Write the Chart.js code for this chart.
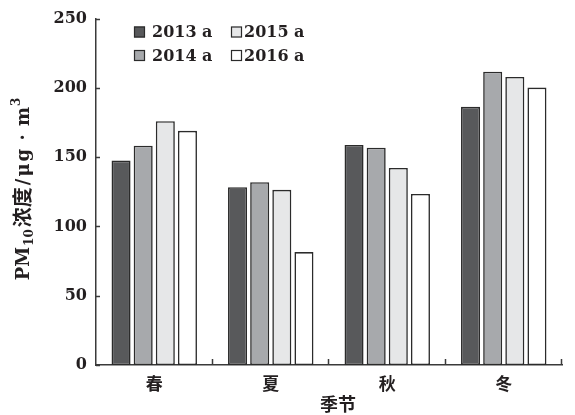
<!DOCTYPE html>
<html>
<head>
<meta charset="utf-8">
<script src="https://cdn.jsdelivr.net/npm/chart.js@4"></script>
<style>
  html, body { margin: 0; padding: 0; background: #fff; }
  #c { display: block; }
</style>
</head>
<body>
<canvas id="c" width="575" height="415"></canvas>
<script>
// Seasonal PM10 concentration, 2013-2016
const seasons = ['春', '夏', '秋', '冬'];
const years = ['2013 a', '2014 a', '2015 a', '2016 a'];
const pm2013 = [147.5, 128.3, 158.8, 186.3];
const pm2014 = [158.3, 131.9, 156.8, 211.7];
const pm2015 = [176.0, 126.4, 142.2, 207.9];
const pm2016 = [169.0, 81.5, 123.5, 200.2];
const yTicks = [0, 50, 100, 150, 200, 250];

const fills = ['#58595b', '#a7a9ac', '#e6e7e8', '#ffffff'];
const edge = '#2b2b2b';
const ink = '#231f20';
const serif = '"DejaVu Serif", "Liberation Serif", serif';
const cjk = '"Noto Sans CJK SC", sans-serif';

const series = [pm2013, pm2014, pm2015, pm2016];

// Inward tick marks, legend block and the composite y-axis title
const decorations = {
  id: 'decorations',
  afterDraw(chart) {
    const ctx = chart.ctx;
    const x = chart.scales.x, y = chart.scales.y;
    ctx.save();
    ctx.strokeStyle = '#3a3a3a';
    ctx.lineWidth = 1.5;
    // y ticks pointing into the plot
    yTicks.forEach(v => {
      const py = Math.round(y.getPixelForValue(v)) + 0.5;
      ctx.beginPath();
      ctx.moveTo(x.left, py);
      ctx.lineTo(x.left + 4, py);
      ctx.stroke();
    });
    // x ticks at category boundaries, pointing up
    const step = x.width / seasons.length;
    for (let i = 1; i <= seasons.length; i++) {
      const px = Math.round(x.left + i * step) - 0.5;
      ctx.beginPath();
      ctx.moveTo(px, y.bottom);
      ctx.lineTo(px, y.bottom - 6);
      ctx.stroke();
    }

    // legend: two columns (2013/2014, 2015/2016)
    const ds = chart.data.datasets;
    const cols = [134, 231];
    const rows = [32, 55.5];
    const order = [[0, 0], [1, 0], [0, 1], [1, 1]]; // [row, col] per dataset
    ctx.font = 'bold 16px ' + serif;
    ctx.textBaseline = 'middle';
    ctx.textAlign = 'left';
    ds.forEach((d, i) => {
      const [r, c] = order[i];
      const bx = cols[c], by = rows[r] - 5.5;
      ctx.fillStyle = d.backgroundColor;
      ctx.fillRect(bx, by, 11, 11);
      ctx.lineWidth = 1.2;
      ctx.strokeStyle = edge;
      ctx.strokeRect(bx + 0.5, by + 0.5, 10, 10);
      ctx.fillStyle = ink;
      ctx.fillText(d.label, bx + (c === 0 ? 18 : 13), rows[r] + 1);
    });
    ctx.restore();

    // y-axis title: PM10浓度/μg · m3 with subscript and superscript
    const pieces = [
      { t: 'PM', f: 'bold 18px ' + serif, dy: 0, gap: 1 },
      { t: '10', f: 'bold 12px ' + serif, dy: 4, gap: 2 },
      { t: '浓度', f: 'bold 20px ' + cjk, dy: 1, gap: 2 },
      { t: '/', f: 'bold 18px ' + serif, dy: 0, gap: 2 },
      { t: 'μ', f: 'bold 18px ' + serif, dy: 0, gap: 2 },
      { t: 'g', f: 'bold 18px ' + serif, dy: 0, gap: 2 },
      { t: ' · ', f: 'bold 18px ' + serif, dy: 0, gap: 2 },
      { t: 'm', f: 'bold 18px ' + serif, dy: 0, gap: 1 },
      { t: '3', f: 'bold 12px ' + serif, dy: -9, gap: 0 }
    ];
    let total = 0;
    pieces.forEach(p => { ctx.font = p.f; p.w = ctx.measureText(p.t).width; total += p.w + p.gap; });
    ctx.save();
    ctx.translate(29, 189);
    ctx.rotate(-Math.PI / 2);
    ctx.fillStyle = ink;
    ctx.textBaseline = 'alphabetic';
    ctx.textAlign = 'left';
    let cx = -total / 2;
    pieces.forEach(p => {
      ctx.font = p.f;
      ctx.fillText(p.t, cx, p.dy);
      cx += p.w + p.gap;
    });
    ctx.restore();

    // x-axis title
    ctx.save();
    ctx.font = 'bold 18px ' + cjk;
    ctx.fillStyle = ink;
    ctx.textAlign = 'center';
    ctx.textBaseline = 'middle';
    ctx.fillText('季节', 338, 404);
    ctx.restore();
  }
};

new Chart(document.getElementById('c'), {
  type: 'bar',
  data: {
    labels: seasons,
    datasets: years.map((yr, i) => ({
      label: yr,
      data: series[i],
      backgroundColor: fills[i],
      borderColor: edge,
      borderWidth: 1.6,
      borderSkipped: false,
      categoryPercentage: 0.76,
      barPercentage: 0.86
    }))
  },
  options: {
    responsive: false,
    animation: false,
    layout: { padding: { top: 18, right: 13, left: 0, bottom: 0 } },
    plugins: { legend: { display: false }, tooltip: { enabled: false } },
    scales: {
      x: {
        grid: { display: false, drawTicks: false },
        border: { display: true, color: '#3a3a3a', width: 1.5 },
        ticks: { color: ink, font: { family: cjk, size: 17, weight: 'bold' }, padding: 8 },
        afterFit(s) { s.height = 50; }
      },
      y: {
        min: 0,
        max: 250,
        grid: { display: false, drawTicks: false },
        border: { display: true, color: '#3a3a3a', width: 1.5 },
        afterBuildTicks(s) { s.ticks = yTicks.map(v => ({ value: v })); },
        ticks: { color: ink, font: { family: serif, size: 16, weight: 'bold' }, padding: 9 },
        afterFit(s) { s.width = 96; }
      }
    }
  },
  plugins: [decorations]
});
</script>
</body>
</html>
